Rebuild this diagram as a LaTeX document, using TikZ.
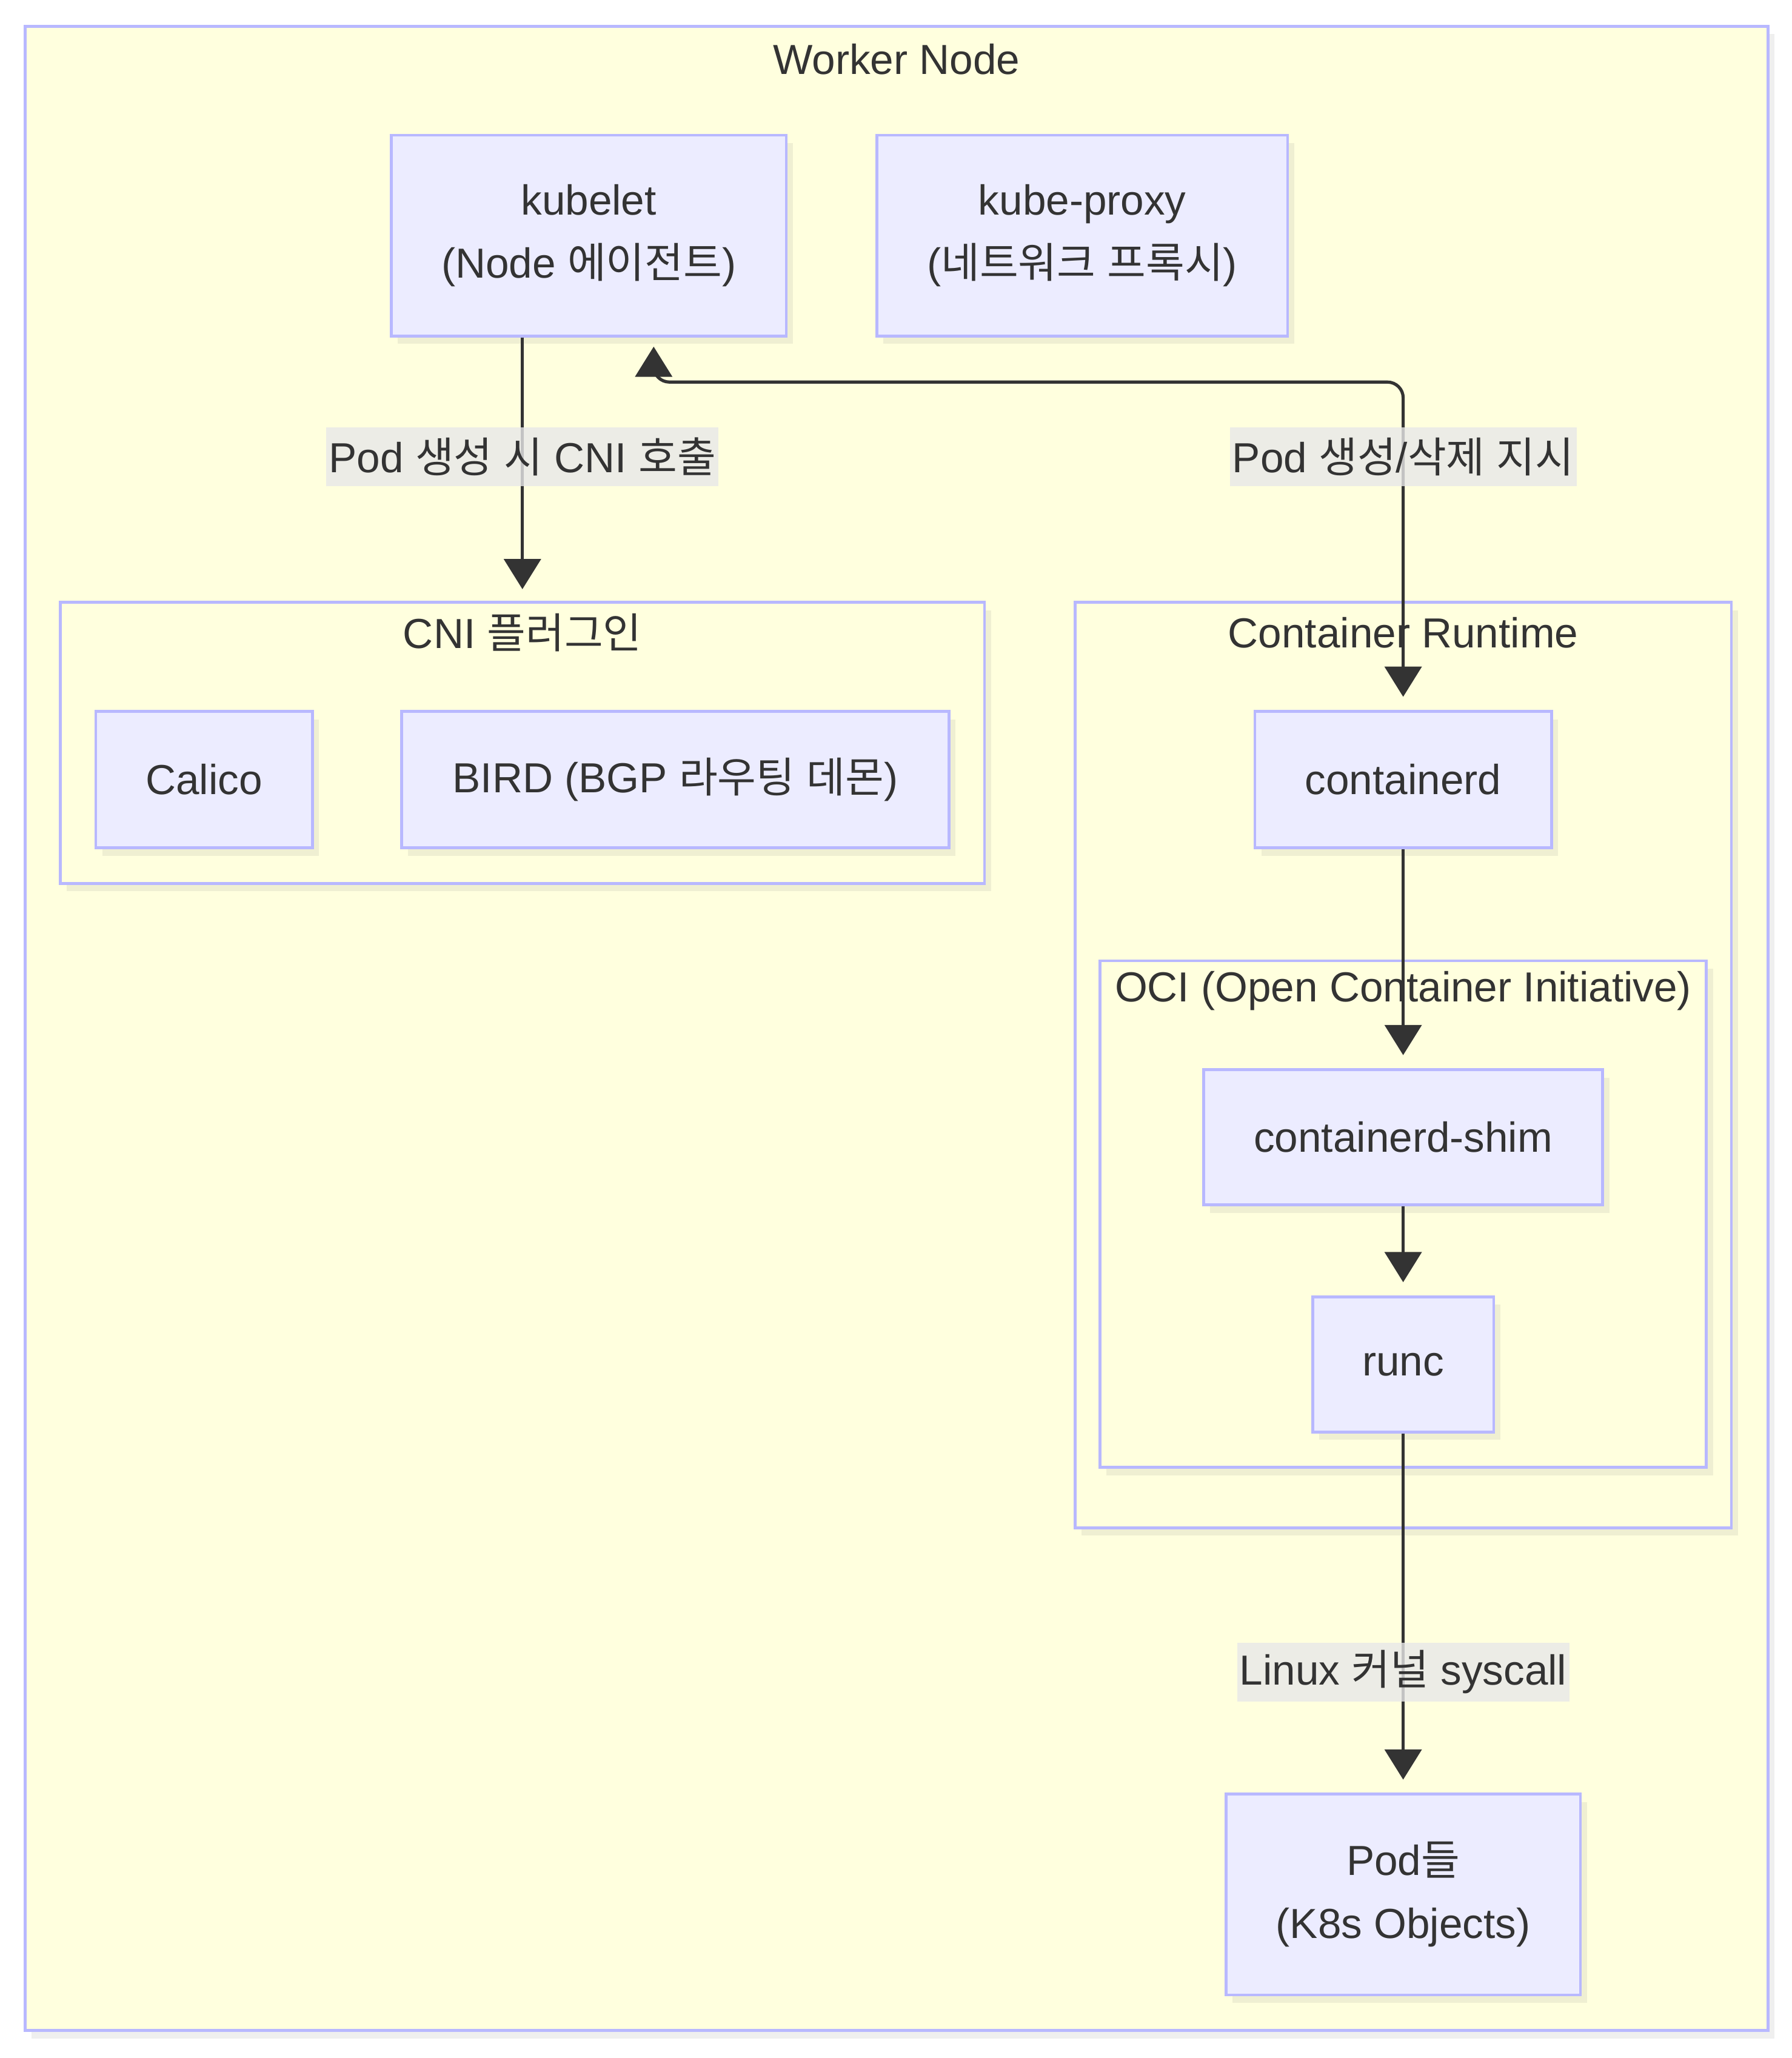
\documentclass[tikz,border=0pt]{standalone}
\usepackage{fontspec}
\setmainfont{Liberation Sans}
\newfontfamily\kr{Noto Sans CJK KR}
\newcommand{\hg}[1]{{\kr #1}}
\usetikzlibrary{arrows.meta,shadows}
\definecolor{bdr}{HTML}{B8B8FF}
\definecolor{clfill}{HTML}{FFFFDE}
\definecolor{ndfill}{HTML}{ECECFF}
\definecolor{txt}{HTML}{333333}
\definecolor{lblbg}{HTML}{E8E8E8}
\tikzset{
  shd/.style={drop shadow={opacity=0.12, shadow xshift=2.5pt, shadow yshift=-3pt}},
  cl/.style={draw=bdr, fill=clfill, line width=1.1pt, inner sep=0pt, shd},
  nd/.style={draw=bdr, fill=ndfill, line width=1.1pt, inner sep=0pt, text=txt, align=center,
             font=\fontsize{16}{24}\selectfont, shd},
  ttl/.style={text=txt, inner sep=0pt, font=\fontsize{16}{19}\selectfont},
  lbl/.style={fill=lblbg, fill opacity=0.8, text opacity=1, text=txt, inner xsep=1pt,
              inner ysep=0pt, minimum height=22.5pt, font=\fontsize{16}{19}\selectfont},
  tip/.style={Triangle[width=14pt,length=11.5pt]},
  arr/.style={draw=txt, line width=1.2pt, -{Triangle[width=14pt,length=11.5pt]}},
  arrb/.style={draw=txt, line width=1.2pt, {Triangle[width=14pt,length=11.5pt]}-{Triangle[width=14pt,length=11.5pt]}},
}
\begin{document}
\begin{tikzpicture}[x=0.5pt,y=-0.5pt]
\useasboundingbox (0,0) rectangle (1365,1568);
\fill[white] (0,0) rectangle (1365,1568);

% clusters
\node[cl, minimum width=664pt, minimum height=763.5pt] (worker) at (683,783.5) {};
\node[ttl] (workerT) at (683,45) {Worker Node};
\node[cl, minimum width=352pt, minimum height=107pt] (cni) at (398,566) {};
\node[ttl] (cniT) at (398,482) {CNI \hg{플러그인}};
\node[cl, minimum width=250pt, minimum height=352.5pt] (cr) at (1069,811.5) {};
\node[ttl] (crT) at (1069,482) {Container Runtime};
\node[cl, minimum width=231pt, minimum height=193pt] (oci) at (1069,925) {};
\node[ttl] (ociT) at (1069,755) {OCI (Open Container Initiative)};

% nodes
\node[nd, minimum width=150.5pt, minimum height=76.5pt] (kubelet) at (448.5,179.5) {kubelet\\(Node \hg{에이전트})};
\node[nd, minimum width=156.5pt, minimum height=76.5pt] (proxy) at (824.5,179.5) {kube-proxy\\(\hg{네트워크} \hg{프록시})};
\node[nd, minimum width=82.5pt, minimum height=52pt] (calico) at (155.5,594) {Calico};
\node[nd, minimum width=208.5pt, minimum height=52pt] (bird) at (514.5,594) {BIRD (BGP \hg{라우팅} \hg{데몬})};
\node[nd, minimum width=113pt, minimum height=52pt] (containerd) at (1069,594) {containerd};
\node[nd, minimum width=152pt, minimum height=51.5pt] (shim) at (1069,866.5) {containerd-shim};
\node[nd, minimum width=69pt, minimum height=51.5pt] (runc) at (1069,1039.5) {runc};
\node[nd, minimum width=135pt, minimum height=76.5pt] (pods) at (1069,1443.5) {Pod\hg{들}\\(K8s Objects)};

% edges
\draw[arr, shorten >=4.5pt] (kubelet.south -| cni.north) -- (cni.north);
\draw[arrb, rounded corners=6pt, shorten <=3.5pt, shorten >=5pt]
  ([xshift=24.75pt]kubelet.south) -- ++(0,34) -| (containerd.north);
\draw[arr, shorten >=5pt] (containerd) -- (shim);
\draw[arr, shorten >=5pt] (shim) -- (runc);
\draw[arr, shorten >=5pt] (runc) -- (pods);

% labels
\node[lbl] (l1) at (398,348) {Pod \hg{생성} \hg{시} CNI \hg{호출}};
\node[lbl] (l2) at (1069,348) {Pod \hg{생성}/\hg{삭제} \hg{지시}};
\node[lbl] (l3) at (1069,1274) {Linux \hg{커널} syscall};
\end{tikzpicture}
\end{document}
